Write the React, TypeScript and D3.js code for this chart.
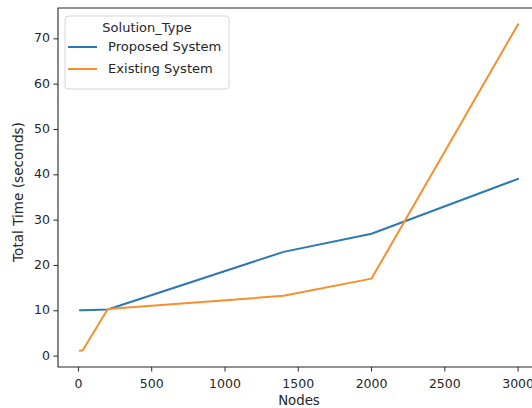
import * as d3 from "d3";

const nodes = [10, 30, 200, 1400, 2000, 3000];
const proposed = [10.1, 10.1, 10.3, 23.0, 27.0, 39.1];
const existing = [1.2, 1.3, 10.4, 13.3, 17.1, 73.2];
const seriesNames = ["Proposed System", "Existing System"];
const colors = ["#2c78b2", "#f68f2e"];
const xTicks = [0, 500, 1000, 1500, 2000, 2500, 3000];
const yTicks = [0, 10, 20, 30, 40, 50, 60, 70];

const W = 532;
const H = 408;
const left = 58, right = 540, top = 8, bottom = 367;
const font = "DejaVu Sans, sans-serif";
const ink = "#262626";

export default function App() {
  const xSpan = d3.max(nodes)! - d3.min(nodes)!;
  const allY = [...proposed, ...existing];
  const ySpan = d3.max(allY)! - d3.min(allY)!;
  const x = d3.scaleLinear()
    .domain([d3.min(nodes)! - xSpan * 0.05, d3.max(nodes)! + xSpan * 0.05])
    .range([left, right]);
  const y = d3.scaleLinear()
    .domain([d3.min(allY)! - ySpan * 0.05, d3.max(allY)! + ySpan * 0.05])
    .range([bottom, top]);

  const line = d3.line<[number, number]>()
    .x((d) => x(d[0]))
    .y((d) => y(d[1]));

  const series = [proposed, existing].map((vals) => nodes.map((n, i) => [n, vals[i]] as [number, number]));

  return (
    <svg width={W} height={H} style={{ position: "absolute", left: 0, top: 0, background: "#fff" }} fontFamily={font}>
      {series.map((s, i) => (
        <path key={i} d={line(s)!} fill="none" stroke={colors[i]} strokeWidth={2} strokeLinejoin="round" strokeLinecap="round" />
      ))}
      <path d={`M${left},${top}H${right}V${bottom}H${left}Z`} fill="none" stroke={ink} strokeWidth={1.1} />

      {xTicks.map((t) => (
        <g key={t} transform={`translate(${x(t)},${bottom})`}>
          <line y2={4.5} stroke={ink} strokeWidth={1} />
          <text y={17} textAnchor="middle" dominantBaseline="middle" fontSize={12.5} fill={ink}>{t}</text>
        </g>
      ))}
      {yTicks.map((t) => (
        <g key={t} transform={`translate(${left},${y(t)})`}>
          <line x2={-4.5} stroke={ink} strokeWidth={1} />
          <text x={-8} textAnchor="end" dominantBaseline="middle" fontSize={12.5} fill={ink}>{t}</text>
        </g>
      ))}
      <text x={(left + right) / 2} y={401} textAnchor="middle" dominantBaseline="middle" fontSize={13.3} fill={ink}>Nodes</text>
      <text transform={`translate(19,192) rotate(-90)`} textAnchor="middle" dominantBaseline="middle" fontSize={13.6} fill={ink}>Total Time (seconds)</text>

      <g>
        <rect x={65} y={16} width={164} height={73} rx={3} fill="#fff" fillOpacity={0.85} stroke="#d6d6d6" strokeWidth={1} />
        <text x={147} y={28} textAnchor="middle" dominantBaseline="middle" fontSize={13} fill={ink}>Solution_Type</text>
        {seriesNames.map((name, i) => (
          <g key={name} transform={`translate(0,${47 + i * 22})`}>
            <line x1={68} x2={97} stroke={colors[i]} strokeWidth={2} />
            <text x={108} dominantBaseline="middle" fontSize={13.1} fill={ink}>{name}</text>
          </g>
        ))}
      </g>
    </svg>
  );
}
